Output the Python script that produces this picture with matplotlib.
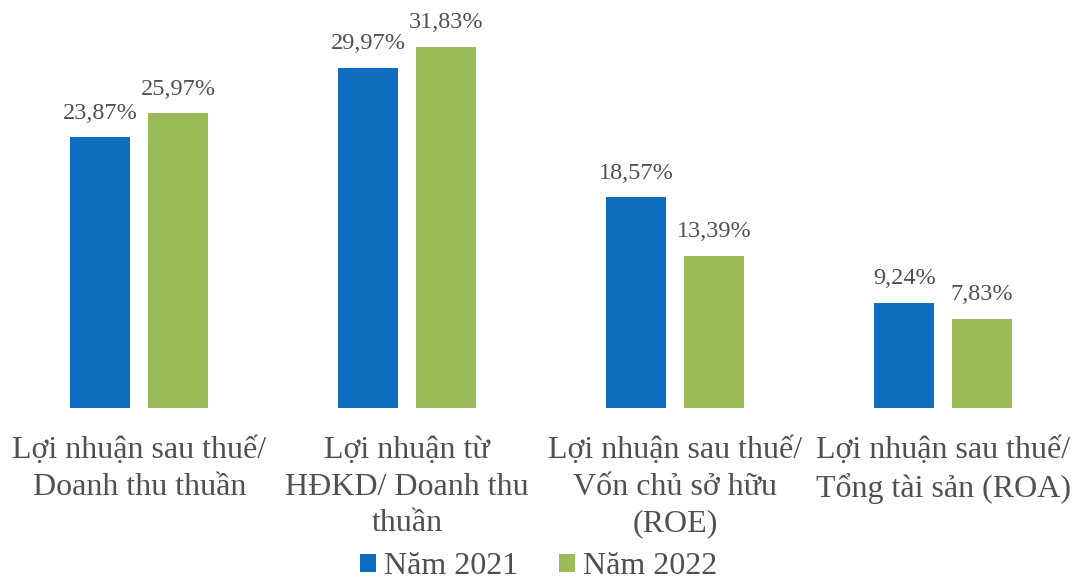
import matplotlib.pyplot as plt
import numpy as np

categories = ['Lợi nhuận sau thuế/\nDoanh thu thuần',
              'Lợi nhuận từ\nHĐKD/ Doanh thu\nthuần',
              'Lợi nhuận sau thuế/\nVốn chủ sở hữu\n(ROE)',
              'Lợi nhuận sau thuế/\nTổng tài sản (ROA)']
y2021 = [23.87, 29.97, 18.57, 9.24]
y2022 = [25.97, 31.83, 13.39, 7.83]
series_names = ['Năm 2021', 'Năm 2022']

plt.rcParams['font.family'] = ['Liberation Serif', 'DejaVu Serif']
txt = '#505050'

fig = plt.figure(figsize=(10.77, 5.81), dpi=100)
ax = fig.add_axes([0.005, 0.298, 0.995, 0.683])

x = np.arange(len(categories))
w = 0.224
off = 0.145
b1 = ax.bar(x - off, y2021, w, color='#0f6cbf', label=series_names[0])
b2 = ax.bar(x + off, y2022, w, color='#9bbb59', label=series_names[1])

for bars, vals in [(b1, y2021), (b2, y2022)]:
    for b, v in zip(bars, vals):
        ax.text(b.get_x() + b.get_width() / 2, v + 1.2,
                ('%.2f%%' % v).replace('.', ','),
                ha='center', va='bottom', fontsize=17.5, color=txt)

ax.set_xlim(-0.5, 3.5)
ax.set_ylim(0, 35)
ax.set_yticks([])
ax.set_xticks(x)
ax.set_xticklabels(categories, fontsize=23, color=txt, linespacing=1.36)
ax.tick_params(axis='x', length=0, pad=20)
for s in ax.spines.values():
    s.set_visible(False)

fig.legend(loc='lower center', bbox_to_anchor=(0.5, -0.05), ncol=2,
           frameon=False, fontsize=23, labelcolor=txt,
           handlelength=0.5, handleheight=0.5, handletextpad=0.25,
           columnspacing=1.3)

fig.savefig('out.png', dpi=100)
